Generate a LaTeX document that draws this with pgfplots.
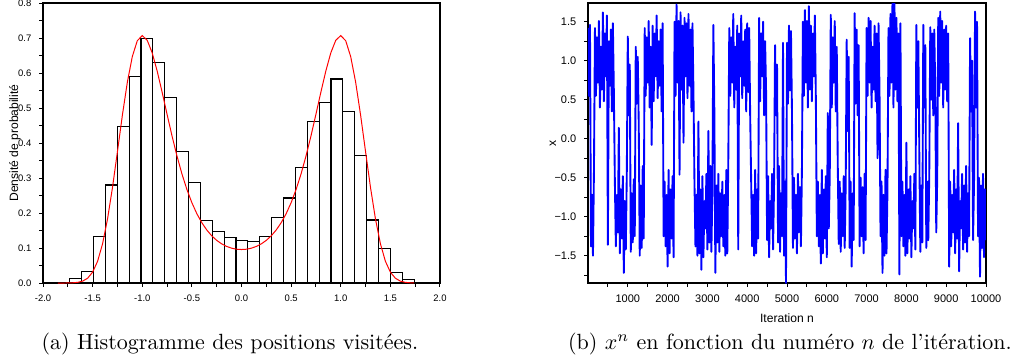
\documentclass[border=0pt]{standalone}
\usepackage{fontspec}
\newfontfamily\arial{Liberation Sans}
\usepackage{pgfplots}
\pgfplotsset{compat=1.18}
\begin{document}
\begin{tikzpicture}
\useasboundingbox (0,0) rectangle (468.64pt,164.55pt);
% ---------------- (a) histogram ----------------
\begin{axis}[
  at={(19.55pt,35.91pt)}, anchor=south west,
  scale only axis, width=180.45pt, height=127.27pt,
  xmin=-2, xmax=2, ymin=0, ymax=0.8,
  axis line style={line width=0.5pt},
  tick align=outside, xtick pos=bottom, ytick pos=left,
  major tick length=1.8pt, minor tick length=1.8pt,
  every tick/.style={black, line width=0.45pt},
  xtick={-2,-1.5,-1,-0.5,0,0.5,1,1.5,2},
  xticklabels={-2.0,-1.5,-1.0,-0.5,0.0,0.5,1.0,1.5,2.0},
  minor xtick={-1.75,-1.25,-0.75,-0.25,0.25,0.75,1.25,1.75},
  ytick={0,0.1,0.2,0.3,0.4,0.5,0.6,0.7,0.8},
  yticklabels={0.0,0.1,0.2,0.3,0.4,0.5,0.6,0.7,0.8},
  minor ytick={0.05,0.15,0.25,0.35,0.45,0.55,0.65,0.75},
  tick label style={font=\arial\fontsize{4.3}{5}\selectfont},
  ylabel={Densité de probabilité},
  ylabel style={font=\arial\fontsize{5.5}{6}\selectfont, at={(axis description cs:-0.0705,0.5)}, anchor=center},
]
\addplot[ybar interval, draw=black, fill=white, line width=0.5pt] coordinates {
(-1.8500,0.002) (-1.7303,0.014) (-1.6107,0.032) (-1.4910,0.133) (-1.3713,0.280)
(-1.2517,0.446) (-1.1320,0.590) (-1.0123,0.698) (-0.8927,0.631) (-0.7730,0.530)
(-0.6533,0.377) (-0.5337,0.288) (-0.4140,0.179) (-0.2943,0.148) (-0.1747,0.129)
(-0.0550,0.122) (0.0647,0.119) (0.1843,0.134) (0.3040,0.187) (0.4237,0.243)
(0.5433,0.330) (0.6630,0.462) (0.7827,0.517) (0.9023,0.583) (1.0220,0.490)
(1.1417,0.364) (1.2613,0.180) (1.3810,0.099) (1.5007,0.029) (1.6203,0.0095)
(1.7400,0.0095)
};
\addplot[red, line width=0.45pt] coordinates {
(-1.85,0.0000) (-1.80,0.0000) (-1.75,0.0001) (-1.70,0.0006) (-1.65,0.0019)
(-1.60,0.0054) (-1.55,0.0138) (-1.50,0.0311) (-1.45,0.0622) (-1.40,0.1119)
(-1.35,0.1827) (-1.30,0.2728) (-1.25,0.3755) (-1.20,0.4800) (-1.15,0.5742)
(-1.10,0.6473) (-1.05,0.6923) (-1.00,0.7070) (-0.95,0.6937) (-0.90,0.6578)
(-0.85,0.6061) (-0.80,0.5456) (-0.75,0.4821) (-0.70,0.4202) (-0.65,0.3629)
(-0.60,0.3116) (-0.55,0.2672) (-0.50,0.2295) (-0.45,0.1981) (-0.40,0.1724)
(-0.35,0.1516) (-0.30,0.1349) (-0.25,0.1219) (-0.20,0.1119) (-0.15,0.1046)
(-0.10,0.0996) (-0.05,0.0966) (0.00,0.0957) (0.05,0.0966) (0.10,0.0996)
(0.15,0.1046) (0.20,0.1119) (0.25,0.1219) (0.30,0.1349) (0.35,0.1516)
(0.40,0.1724) (0.45,0.1981) (0.50,0.2295) (0.55,0.2672) (0.60,0.3116)
(0.65,0.3629) (0.70,0.4202) (0.75,0.4821) (0.80,0.5456) (0.85,0.6061)
(0.90,0.6578) (0.95,0.6937) (1.00,0.7070) (1.05,0.6923) (1.10,0.6473)
(1.15,0.5742) (1.20,0.4800) (1.25,0.3755) (1.30,0.2728) (1.35,0.1827)
(1.40,0.1119) (1.45,0.0622) (1.50,0.0311) (1.55,0.0138) (1.60,0.0054)
(1.65,0.0019) (1.70,0.0006) (1.74,0.0002)
};
\end{axis}
% ---------------- (b) trace ----------------
\begin{axis}[
  at={(267.27pt,35.91pt)}, anchor=south west,
  scale only axis, width=180.91pt, height=127.27pt,
  xmin=0, xmax=10000, ymin=-1.85, ymax=1.74,
  axis line style={line width=0.5pt},
  tick align=outside, xtick pos=bottom, ytick pos=left,
  major tick length=1.8pt, minor tick length=1.8pt,
  every tick/.style={black, line width=0.45pt},
  scaled x ticks=false,
  xtick={1000,2000,3000,4000,5000,6000,7000,8000,9000,10000},
  xticklabels={1000,2000,3000,4000,5000,6000,7000,8000,9000,10000},
  minor xtick={500,1500,2500,3500,4500,5500,6500,7500,8500,9500},
  ytick={-1.5,-1,-0.5,0,0.5,1,1.5},
  yticklabels={−1.5,−1.0,−0.5,0.0,0.5,1.0,1.5},
  minor ytick={-1.75,-1.25,-0.75,-0.25,0.25,0.75,1.25},
  tick label style={font=\arial\fontsize{5}{6}\selectfont},
  xlabel={Iteration n},
  xlabel style={font=\arial\fontsize{5.5}{6}\selectfont, at={(axis description cs:0.5,-0.125)}, anchor=center},
  ylabel={x},
  ylabel style={font=\arial\fontsize{5.5}{6}\selectfont, at={(axis description cs:-0.088,0.5)}, anchor=center},
]
\addplot[blue, line width=0.85pt, line join=round] coordinates {
(0,1.42) (25,0.55) (50,1.46) (75,-1.38) (100,-0.72) (125,-1.50) (150,-0.40) (175,1.42) (200,0.55) (225,1.30)
(250,0.72) (275,1.51) (300,0.40) (325,1.18) (350,0.63) (375,1.62) (400,0.48) (425,1.35) (450,0.80) (475,1.58)
(500,-1.36) (525,1.25) (550,0.68) (575,1.40) (600,0.35) (625,1.48) (650,0.60) (675,-0.55) (700,-1.38) (725,-0.72)
(750,-1.20) (775,0.14) (800,-1.47) (825,-0.65) (850,-1.28) (875,-0.48) (900,-1.72) (925,-0.80) (950,-1.42) (975,-0.45)
(1000,1.31) (1025,0.30) (1050,0.95) (1075,-1.45) (1100,-0.70) (1125,-1.33) (1150,-0.52) (1175,-1.25) (1200,1.18) (1225,0.45)
(1250,1.05) (1275,0.20) (1300,-1.50) (1325,-0.60) (1350,-1.40) (1375,-0.35) (1400,-1.28) (1425,1.42) (1450,0.55) (1475,1.30)
(1500,0.72) (1525,1.51) (1550,0.40) (1575,1.18) (1600,-0.08) (1625,1.45) (1650,0.48) (1675,1.35) (1700,0.80) (1725,1.58)
(1750,0.52) (1775,1.25) (1800,0.68) (1825,1.40) (1850,0.35) (1875,1.48) (1900,-1.25) (1925,-0.55) (1950,-1.38) (1975,-0.72)
(2000,-1.64) (2025,-0.40) (2050,-1.47) (2075,-0.65) (2100,-1.28) (2125,-0.48) (2150,-1.52) (2175,1.50) (2200,0.55) (2225,1.72)
(2250,0.72) (2275,1.51) (2300,-0.46) (2325,1.62) (2350,0.63) (2375,1.45) (2400,-0.05) (2425,1.55) (2450,0.80) (2475,1.48)
(2500,0.52) (2525,1.60) (2550,0.68) (2575,1.40) (2600,0.35) (2625,1.48) (2650,0.60) (2675,-0.55) (2700,-1.38) (2725,-0.72)
(2750,-1.50) (2775,0.22) (2800,-1.47) (2825,-0.65) (2850,-1.68) (2875,-0.48) (2900,-1.52) (2925,-0.80) (2950,-1.15) (2975,-0.45)
(3000,-1.42) (3025,0.10) (3050,-1.33) (3075,-0.35) (3100,-1.45) (3125,-0.70) (3150,1.46) (3175,0.35) (3200,-1.72) (3225,-0.60)
(3250,-1.33) (3275,-0.45) (3300,-1.45) (3325,-0.70) (3350,-1.25) (3375,-0.55) (3400,-1.38) (3425,-0.72) (3450,-1.50) (3475,-0.40)
(3500,-1.47) (3525,-0.30) (3550,1.42) (3575,0.55) (3600,1.30) (3625,0.72) (3650,1.60) (3675,0.40) (3700,1.18) (3725,0.63)
(3750,1.45) (3775,-1.42) (3800,1.35) (3825,0.80) (3850,1.58) (3875,0.52) (3900,1.25) (3925,0.68) (3950,1.40) (3975,0.35)
(4000,1.48) (4025,0.60) (4050,1.42) (4075,0.30) (4100,-0.55) (4125,-1.38) (4150,-0.72) (4175,-1.50) (4200,-0.40) (4225,-1.47)
(4250,-0.65) (4275,-1.28) (4300,1.55) (4325,0.48) (4350,1.35) (4375,0.80) (4400,1.50) (4425,0.30) (4450,1.25) (4475,0.60)
(4500,-1.30) (4525,-0.48) (4550,-1.52) (4575,-0.80) (4600,-1.15) (4625,-0.45) (4650,-1.42) (4675,-0.60) (4700,1.20) (4725,0.30)
(4750,0.95) (4775,-1.33) (4800,-0.35) (4825,-1.45) (4850,-0.70) (4875,-1.25) (4900,1.23) (4925,-1.50) (4950,-0.55) (4975,-1.85)
(5000,1.23) (5025,0.45) (5050,1.45) (5075,0.62) (5100,1.38) (5125,0.35) (5150,-1.40) (5175,-0.50) (5200,-1.28) (5225,-0.72)
(5250,-1.47) (5275,-0.45) (5300,-1.20) (5325,-0.62) (5350,-1.38) (5375,-0.40) (5400,1.50) (5425,0.55) (5450,1.65) (5475,0.72)
(5500,1.51) (5525,0.40) (5550,1.70) (5575,0.63) (5600,1.45) (5625,0.48) (5650,1.35) (5675,0.80) (5700,1.58) (5725,0.52)
(5750,-1.25) (5775,-0.55) (5800,-1.38) (5825,-0.72) (5850,-1.60) (5875,-0.40) (5900,-1.47) (5925,-0.65) (5950,-1.28) (5975,-0.48)
(6000,-1.52) (6025,0.33) (6050,-1.15) (6075,-0.45) (6100,1.59) (6125,0.40) (6150,1.30) (6175,0.72) (6200,1.51) (6225,0.35)
(6250,1.18) (6275,-0.30) (6300,-1.35) (6325,-0.55) (6350,-1.45) (6375,-0.70) (6400,-1.25) (6425,-0.48) (6450,-1.40) (6475,-0.60)
(6500,1.27) (6525,0.10) (6550,1.05) (6575,-1.40) (6600,-0.55) (6625,-1.64) (6650,-0.70) (6675,-1.30) (6700,1.61) (6725,0.45)
(6750,1.40) (6775,0.30) (6800,1.20) (6825,-1.38) (6850,-0.50) (6875,-1.25) (6900,-0.62) (6925,-1.47) (6950,-0.45) (6975,-1.30)
(7000,1.42) (7025,0.55) (7050,1.55) (7075,0.72) (7100,1.51) (7125,0.40) (7150,1.18) (7175,0.63) (7200,1.45) (7225,0.48)
(7250,1.35) (7275,-0.25) (7300,1.48) (7325,0.60) (7350,-1.25) (7375,-0.55) (7400,-1.72) (7425,-0.72) (7450,-1.50) (7475,-0.40)
(7500,-1.47) (7525,-0.65) (7550,1.42) (7575,0.55) (7600,1.60) (7625,0.72) (7650,1.74) (7675,0.40) (7700,1.74) (7725,0.63)
(7750,1.55) (7775,0.48) (7800,1.35) (7825,-1.74) (7850,1.48) (7875,-1.25) (7900,-0.55) (7925,-1.38) (7950,-0.72) (7975,-1.50)
(8000,-0.05) (8025,-1.47) (8050,-0.65) (8075,-1.28) (8100,-0.48) (8125,-1.52) (8150,-0.80) (8175,-1.15) (8200,-0.45) (8225,-1.42)
(8250,1.46) (8275,0.40) (8300,1.25) (8325,-0.20) (8350,-1.45) (8375,-0.60) (8400,-1.33) (8425,1.46) (8450,0.40) (8475,1.20)
(8500,-1.40) (8525,-0.55) (8550,-1.30) (8575,-0.45) (8600,1.43) (8625,0.50) (8650,1.35) (8675,0.30) (8700,1.40) (8725,0.65)
(8750,-1.20) (8775,-0.50) (8800,1.55) (8825,0.55) (8850,1.63) (8875,0.72) (8900,1.51) (8925,0.40) (8950,1.40) (8975,0.63)
(9000,1.45) (9025,0.48) (9050,1.35) (9075,-1.64) (9100,-0.55) (9125,-1.38) (9150,-0.72) (9175,-1.20) (9200,-0.40) (9225,-1.47)
(9250,-0.65) (9275,-1.28) (9300,0.20) (9325,-1.70) (9350,-0.80) (9375,-1.15) (9400,-0.45) (9425,-1.42) (9450,-0.60) (9475,-1.33)
(9500,-0.35) (9525,-1.45) (9550,-0.70) (9575,-1.25) (9600,1.29) (9625,0.35) (9650,1.00) (9675,-1.30) (9700,-0.55) (9725,1.63)
(9750,0.40) (9775,1.50) (9800,-1.25) (9825,-0.50) (9850,-1.77) (9875,-0.60) (9900,-1.40) (9925,-0.45) (9950,-1.52) (9975,-0.65)
(10000,-1.30)
};
\end{axis}
% ---------------- captions ----------------
\node[anchor=base] at (104.5pt,5.9pt) {(a) Histogramme des positions visitées.};
\node[anchor=base] at (359.1pt,5.9pt) {(b) $x^n$ en fonction du numéro $n$ de l'itération.};
\end{tikzpicture}
\end{document}
